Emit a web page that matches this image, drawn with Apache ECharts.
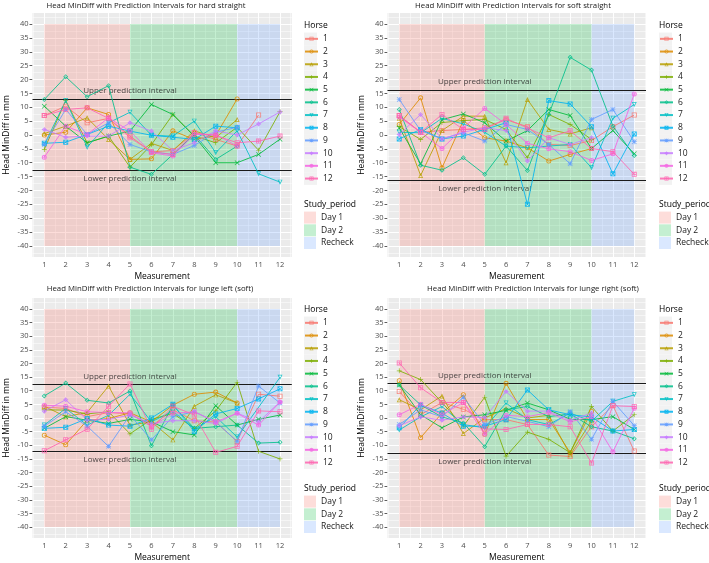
<!DOCTYPE html>
<html><head><meta charset="utf-8">
<script src="https://cdn.jsdelivr.net/npm/echarts@6/dist/echarts.min.js"></script>
<style>html,body{margin:0;padding:0;background:#fff}#c{width:709px;height:563px}</style>
</head><body><div id="c"></div>
<script>
// ---------- data ----------
const measurements = [1,2,3,4,5,6,7,8,9,10,11,12];
const horses = ['1','2','3','4','5','6','7','8','9','10','11','12'];
const horseColors = ['#F8766D','#DE8C00','#B79F00','#7CAE00','#00BA38','#00C08B','#00BFC4','#00B4F0','#619CFF','#C77CFF','#F564E3','#FF64B0'];
const panelTitles = [
  'Head MinDiff with Prediction Intervals for hard straight',
  'Head MinDiff with Prediction Intervals for soft straight',
  'Head MinDiff with Prediction Intervals for lunge left (soft)',
  'Head MinDiff with Prediction Intervals for lunge right (soft)'];
const upperPI = [12.8, 16.3, 12.3, 12.6];
const lowerPI = [-12.8, -16.3, -12.3, -12.9];
const periodNames = ['Day 1','Day 2','Recheck'];
const periodStart = [1, 5, 10];
const periodEnd = [5, 10, 12];
const periodColors = ['rgba(248,118,109,0.25)','rgba(0,186,56,0.23)','rgba(97,156,255,0.23)'];
const xTicks = [1,2,3,4,5,6,7,8,9,10,11,12];
const xMinor = [0.5,1.5,2.5,3.5,4.5,5.5,6.5,7.5,8.5,9.5,10.5,11.5,12.5];
const yTicks = [-40,-35,-30,-25,-20,-15,-10,-5,0,5,10,15,20,25,30,35,40];
const yMinor = [-42.5,-37.5,-32.5,-27.5,-22.5,-17.5,-12.5,-7.5,-2.5,2.5,7.5,12.5,17.5,22.5,27.5,32.5,37.5,42.5];

const hardStraight = [
  [7, 10.4, 4.4, 6, -0.4, -6.1, -5.6, 0.8, -1.6, -4, 7.2, null],
  [0, 1, 9.8, 7.4, -8.8, -8.6, 1.5, -1.6, -0.2, 13, null, null],
  [0.5, 3.2, 6.2, -1.6, -8.8, -3, -5.6, 1.5, -1, 5.6, null, null],
  [-5.2, 12.4, -2.8, -0.4, -11.6, -3.5, 7.4, -0.4, -2.8, 2.8, -5.5, 8.4],
  [10.4, 3.2, -2.8, -0.4, 1.4, 11, 7.4, -0.4, -10, -10, -7, -1.5],
  [12.8, 21, 13.8, 17.8, -11.6, -14.2, -7, 0.2, -8.8, -4, null, null],
  [-3.5, 12.4, -4.4, 4.4, 8.2, -0.1, -0.4, 5, -6.4, 1.5, -14, -17],
  [-3, -2.6, 0.2, 3.2, 1.4, -0.1, -0.8, -1.6, 3.2, 2.6, null, null],
  [-3.4, 9.2, 0.2, 4.4, -3.4, -6.1, -7, -3.8, 1, 2.8, null, null],
  [2, -0.8, -0.4, -0.4, 4.4, 1.4, -5.6, -2.8, 1.5, 0, 4, 8.3],
  [-8, 3.2, 0.2, 6.2, 1.4, -6.4, -7.6, 0.2, 0.2, -4, null, null],
  [7, 9.2, 9.8, 6, -1, -6, -7, 0.8, -0.2, -2.8, -2.2, -0.4]];
const softStraight = [
  [7, 1, 1.6, 2, 2.6, 5.5, 3, -3.4, -3.8, -2, 3, 7.2],
  [3.8, 13.4, -11.8, 5.2, -1, -2.2, -4.6, -9.4, -7, -4.9, null, null],
  [6, -14.6, 1.6, 6.8, 6.8, -10, 12.8, 2, 0.4, 2.6, null, null],
  [3, -1.6, 4.5, 5.2, 5.6, 2, -8.2, 7.4, 3.8, -1.6, null, null],
  [2.5, -10.4, 5.5, 7.6, 4.4, -2.2, 1.6, 9.2, 7, -4.9, 1.6, -6.8],
  [9.2, -10.9, -12.7, -8.2, -14.2, -4, -12.8, 7.4, 28, 23.4, 3.2, -7.4],
  [1, 0.8, 6, 4, 1, -4, -4.6, -4, -3.4, -11.8, 6, 11],
  [-1.4, 2, -1.4, -0.4, 2, 4.4, -25, 12.4, 11.2, 3, -14, 0.4],
  [12.8, 1.6, -1.4, 0.8, -2.2, 3.8, 2, -3.4, -10.4, 5.6, 9.2, -2.4],
  [0.2, 7.4, -1.4, 1, 2.6, 1.6, -9.4, -1, -3.4, -1, null, null],
  [6.5, 1, -4.9, 2.5, 9.6, 3.8, -3, -5, -6, -9.2, -6.8, 14.8],
  [7, 1, 7.4, 2, 2, 6, 2.5, -1, 1.5, -4.9, -6, -14.2]];
const lungeLeft = [
  [4, 3.5, 0.5, 2, 1.5, -3, 3, -1, -1.5, -8.6, 8.7, 8],
  [-6.3, -9.8, -0.8, -0.2, 1.9, -1.4, 4.7, 8.7, 9.5, 5.5, null, null],
  [4.3, 0.5, 2, 11.7, -2.6, -1.4, -8, 4.3, 8.5, 5.5, null, null],
  [3, 2.9, 1.5, 2.3, -5.8, -0.5, 1.7, -3.8, 2.6, 13.1, -12.2, -15],
  [-3.8, 0.5, -0.8, -2, -0.5, -1.4, -5, -6.2, 4.5, -2.6, -0.5, 1.1],
  [8.1, 12.8, 6.5, 5.5, 9.9, -10.2, 4.7, -3.8, -3.2, -2.6, -9.2, -8.9],
  [-2.6, 3.5, -2.6, 1, 8.7, -1.4, 2.5, -4, 0.5, -7, null, 14.9],
  [-3.8, -3.4, -0.2, -2.6, -3, 0, 5, -5, 1.5, 3.5, 7, 10.7],
  [-3, 2.3, -3, -10.4, 1.1, -8, 0.5, 2.3, -1.4, -8.6, 11.7, 5.5],
  [2.5, 6.7, -0.8, -0.5, 1.1, -2, -1, -1, -2, 1.8, -1.4, 5.9],
  [4.7, 4.3, 2.3, 2, 1.9, -3.2, 1.7, 2.3, -1.4, 1.7, -2.6, 5.9],
  [-12, -8, -4.1, 4.3, 12.5, -4.1, 4.3, 1.1, -12.6, -10.4, 2.6, 2.3]];
const lungeRight = [
  [9.7, 1.2, 5.7, 3.2, -0.6, -0.6, -2.4, -13.6, -14.1, -3.2, 4.6, -12.1],
  [13.7, -7.2, 1.8, 8.5, -6, 12.7, -0.6, -0.5, -12.7, 2.4, null, null],
  [6.7, 3, 8.1, -5.7, 0, 3.5, 0, 1, -13.5, -1, null, null],
  [17.3, 14.1, 5.7, -3, 7.6, -14, -5.2, -7.8, -12.7, 4.2, -4.8, 1.2],
  [12.1, 1.2, -3.6, 0.4, 1.2, 2.8, 5.5, 3, -0.5, -0.6, 0.5, -4.2],
  [12.1, 4.8, 0.4, -1.8, -10.5, 3, 4.2, 0.5, 1.5, -3.2, -4.8, -7.6],
  [-4.4, 0.4, 4.2, -2.4, -3.6, 5.5, -0.6, -2.4, 1.8, -1.2, 6.1, 8.5],
  [-3.6, 4.8, 1.8, -3, -3, -0.6, 10.3, 3, 1.2, 0.4, -4.8, -4.2],
  [-2.4, 3, 0.4, 7.6, -2.4, 0.5, -1.2, -3.2, 2.4, -7.8, 6.1, -2.8],
  [-2.8, 0.4, -0.8, 0.4, 0.2, 9.7, 2.5, 2.5, -0.8, 1.8, null, null],
  [1.2, 5, 1.2, 5.7, -6, 1, 0.5, 2, -1.4, 0.5, -12.4, 3.6],
  [20.2, 11.1, 5.7, 5.7, -4, -4.2, -2.4, -2.4, -3.2, -16.5, 4.5, 4.2]];
const panelData = [hardStraight, softStraight, lungeLeft, lungeRight];

// ---------- styling ----------
const FONT = 'Open Sans';
const SQ = 'M0 0H10V10H0Z M1.6 1.6V8.4H8.4V1.6Z';
const CI = 'M5 0A5 5 0 1 1 5 10A5 5 0 1 1 5 0Z M5 1.6A3.4 3.4 0 1 0 5 8.4A3.4 3.4 0 1 0 5 1.6Z';
const TR = 'M5 0L10 9.5H0Z M5 3.4L2.2 8.2H7.8Z';
const PL = 'M4.3 0H5.7V4.3H10V5.7H5.7V10H4.3V5.7H0V4.3H4.3Z';
const XX = 'M1 0L5 4L9 0L10 1L6 5L10 9L9 10L5 6L1 10L0 9L4 5L0 1Z';
const DI = 'M5 0L10 5L5 10L0 5Z M5 2.2L2.2 5L5 7.8L7.8 5Z';
const TD = 'M0 0.5H10L5 10Z M2.2 1.8L5 6.6L7.8 1.8Z';
const symbols = [SQ, CI, TR, PL, XX, DI, TD, SQ+' '+XX, PL+' '+XX, DI+' '+PL, CI+' '+PL, SQ+' '+PL].map(p => 'path://' + p);

const grids = [
  {left: 32.5, top: 13, width: 259.3, height: 244},
  {left: 387.5, top: 13, width: 258.5, height: 244},
  {left: 32.5, top: 298, width: 259.3, height: 243},
  {left: 387.5, top: 298, width: 258.5, height: 243}];
const legendX = [304, 659, 304, 659];
const legendY = [13, 13, 297, 297];
const titleCX = [146, 513, 150, 533];
const titleCY = [5.5, 5.5, 289, 289];

const option = {
  animation: false,
  backgroundColor: '#fff',
  textStyle: {fontFamily: FONT},
  grid: grids.map(g => Object.assign({show: true, backgroundColor: '#EBEBEB', borderWidth: 0}, g)),
  xAxis: grids.map((g, i) => ({
    gridIndex: i, type: 'value', min: 0.45, max: 12.55,
    axisLine: {show: false},
    axisTick: {show: true, length: 3, lineStyle: {color: '#333', width: 0.8}, customValues: xTicks},
    axisLabel: {customValues: xTicks, fontSize: 7.5, color: '#4D4D4D', margin: 4, fontFamily: FONT},
    splitLine: {show: false},
    name: 'Measurement', nameLocation: 'middle', nameGap: 15,
    nameTextStyle: {fontSize: 8.5, color: '#000', fontFamily: FONT}
  })),
  yAxis: grids.map((g, i) => ({
    gridIndex: i, type: 'value', min: -44, max: 44,
    axisLine: {show: false},
    axisTick: {show: true, length: 3, lineStyle: {color: '#333', width: 0.8}, customValues: yTicks},
    axisLabel: {customValues: yTicks, fontSize: 7.5, color: '#4D4D4D', margin: 4, fontFamily: FONT},
    splitLine: {show: false},
    name: 'Head MinDiff in mm', nameLocation: 'middle', nameGap: 21,
    nameTextStyle: {fontSize: 8.5, color: '#000', fontFamily: FONT}
  })),
  legend: [],
  graphic: [],
  series: []
};

for (let p = 0; p < 4; p++) {
  // grid lines
  const minorLines = xMinor.map(v => ({xAxis: v})).concat(yMinor.map(v => ({yAxis: v})));
  const majorLines = xTicks.map(v => ({xAxis: v})).concat(yTicks.map(v => ({yAxis: v})));
  option.series.push({
    type: 'line', xAxisIndex: p, yAxisIndex: p, data: [], silent: true, z: 1,
    markLine: {z: 1, silent: true, symbol: ['none','none'], label: {show: false}, animation: false,
      lineStyle: {color: '#fff', width: 0.5, type: 'solid'}, data: minorLines}
  });
  option.series.push({
    type: 'line', xAxisIndex: p, yAxisIndex: p, data: [], silent: true, z: 1,
    markLine: {z: 1, silent: true, symbol: ['none','none'], label: {show: false}, animation: false,
      lineStyle: {color: '#fff', width: 1, type: 'solid'}, data: majorLines}
  });
  // study periods
  periodNames.forEach((nm, k) => {
    option.series.push({
      name: nm, type: 'line', xAxisIndex: p, yAxisIndex: p, data: [], silent: true, z: 2,
      itemStyle: {color: periodColors[k]}, lineStyle: {color: periodColors[k]},
      markArea: {z: 2, silent: true, itemStyle: {color: periodColors[k]},
        data: [[{coord: [periodStart[k], -40]}, {coord: [periodEnd[k], 40]}]]}
    });
  });
  // prediction interval lines
  option.series.push({
    type: 'line', xAxisIndex: p, yAxisIndex: p, data: [], silent: true, z: 3,
    markLine: {z: 3, silent: true, symbol: ['none','none'], label: {show: false}, animation: false,
      lineStyle: {color: '#1a1a1a', width: 1, type: 'solid'},
      data: [{yAxis: upperPI[p]}, {yAxis: lowerPI[p]}]}
  });
  option.series.push({
    type: 'scatter', xAxisIndex: p, yAxisIndex: p, symbolSize: 0, silent: true, z: 4,
    data: [[5, upperPI[p] + 3, 'Upper prediction interval'], [5, lowerPI[p] - 3, 'Lower prediction interval']],
    label: {show: true, position: 'inside', formatter: q => q.data[2], color: '#1a1a1a', fontSize: 8, fontFamily: FONT}
  });
  // horses
  panelData[p].forEach((vals, h) => {
    option.series.push({
      name: horses[h], type: 'line', xAxisIndex: p, yAxisIndex: p, z: 5,
      data: measurements.map((m, i) => vals[i] === null ? null : [m, vals[i]]).filter(d => d !== null),
      symbol: symbols[h], symbolSize: 5,
      itemStyle: {color: horseColors[h], opacity: 0.85},
      lineStyle: {color: horseColors[h], width: 1, opacity: 0.85}
    });
  });
  // legends
  option.legend.push({
    orient: 'vertical', left: legendX[p], top: legendY[p] + 19.5, padding: 0, itemGap: 0,
    itemWidth: 13, itemHeight: 5, data: horses, selectedMode: false,
    textStyle: {fontSize: 8.5, color: '#1a1a1a', lineHeight: 12.7, fontFamily: FONT}
  });
  option.legend.push({
    orient: 'vertical', left: legendX[p], top: legendY[p] + 198.5, padding: 0, itemGap: 0.5,
    itemWidth: 12, itemHeight: 12, icon: 'rect', data: periodNames, selectedMode: false,
    textStyle: {fontSize: 8.5, color: '#1a1a1a', lineHeight: 12.2, fontFamily: FONT}
  });
  option.graphic.push({type: 'text', left: legendX[p], top: legendY[p] + 8,
    style: {text: 'Horse', fontSize: 8.5, fill: '#000', fontFamily: FONT}});
  option.graphic.push({type: 'text', left: legendX[p], top: legendY[p] + 187,
    style: {text: 'Study_period', fontSize: 8.5, fill: '#000', fontFamily: FONT}});
  for (let k = 0; k < 12; k++) {
    option.graphic.push({type: 'rect', silent: true, z: -1,
      shape: {x: legendX[p], y: legendY[p] + 19.5 + k * 12.7, width: 13, height: 12.7},
      style: {fill: '#F2F2F2'}});
  }
  option.graphic.push({type: 'text', z: 10,
    x: titleCX[p], y: titleCY[p],
    style: {text: panelTitles[p], fontSize: 7.8, fill: '#1a1a1a', fontFamily: FONT, align: 'center', verticalAlign: 'middle'}});
}

const chart = echarts.init(document.getElementById('c'), null, {renderer: 'canvas'});
chart.setOption(option);
</script></body></html>
